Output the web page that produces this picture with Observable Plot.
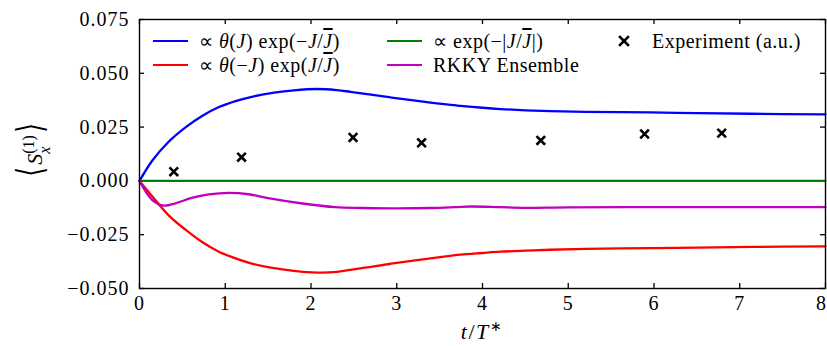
<!DOCTYPE html>
<html>
<head>
<meta charset="utf-8">
<script src="https://cdn.jsdelivr.net/npm/d3@7"></script>
<script src="https://cdn.jsdelivr.net/npm/@observablehq/plot@0.6"></script>
<style>
  html, body { margin: 0; padding: 0; background: #fff; }
  #wrap { position: relative; width: 827px; height: 346px; color: #000; }
  #wrap, #wrap div, #wrap span, #wrap i, #wrap sup, #wrap svg, #wrap text { font-family: "Liberation Serif" !important; }
  #wrap .br { font-family: "DejaVu Sans" !important; }
  #wrap > svg { position: absolute; left: 0; top: 0; }
  #wrap > svg text { letter-spacing: 1px; }
  .leg { position: absolute; font-size: 20px; letter-spacing: 0.5px; white-space: nowrap; line-height: 1; }
  .sw { position: absolute; height: 0; border-top: 2.5px solid; width: 35px; }
  i { font-style: italic; }
  .ol { text-decoration: overline; }
  #ylab { position: absolute; left: 31px; top: 150px; transform: translate(-50%, -50%) rotate(-90deg); font-size: 22px; white-space: nowrap; }
  #xlab { position: absolute; left: 482px; top: 318px; transform: translateX(-50%); font-size: 22px; letter-spacing: 1.5px; white-space: nowrap; }
</style>
</head>
<body>
<div id="wrap"></div>
<script>
// ---- data ----
const tTheory = [0, 0.15, 0.34, 0.54, 0.73, 0.92, 1.12, 1.31, 1.57, 1.8, 2.07, 2.3, 2.46, 2.7, 2.93, 3.15, 3.35, 3.55, 3.74, 4.0, 4.21, 4.5, 4.79, 5.2, 5.96, 6.5, 7.13, 8];
const blueVals = [0, 0.0095, 0.0182, 0.0250, 0.0302, 0.0342, 0.0371, 0.0391, 0.0410, 0.0421, 0.0427, 0.0422, 0.0414, 0.0401, 0.0388, 0.0376, 0.0366, 0.0357, 0.0349, 0.0340, 0.0334, 0.0328, 0.0324, 0.0321, 0.0318, 0.0315, 0.0312, 0.0309];
const redVals = [0, -0.0072, -0.0160, -0.0228, -0.0284, -0.0328, -0.0360, -0.0384, -0.0405, -0.0418, -0.0426, -0.0423, -0.0413, -0.0399, -0.0385, -0.0373, -0.0362, -0.0352, -0.0343, -0.0335, -0.0329, -0.0324, -0.0320, -0.0316, -0.0312, -0.0310, -0.0307, -0.0304];
const tGreen = [0, 8];
const greenVals = [0, 0];
const tRkky = [0, 0.15, 0.285, 0.42, 0.61, 0.81, 1.04, 1.27, 1.5, 1.9, 2.28, 2.6, 3.02, 3.4, 3.68, 3.86, 4.2, 4.48, 5, 6, 7, 8];
const rkkyVals = [0, -0.0089, -0.0115, -0.0104, -0.0079, -0.0063, -0.0056, -0.0062, -0.0080, -0.0105, -0.0122, -0.0126, -0.0128, -0.0126, -0.0122, -0.0119, -0.0122, -0.0125, -0.0123, -0.0122, -0.0122, -0.0122];
const tExp = [0.4, 1.19, 2.49, 3.29, 4.68, 5.89, 6.79];
const expVals = [0.0043, 0.011, 0.0202, 0.0177, 0.0188, 0.0218, 0.0222];
const xTicks = [0, 1, 2, 3, 4, 5, 6, 7, 8];
const yTicks = [-0.05, -0.025, 0, 0.025, 0.05, 0.075];

const series = (ts, vs) => ts.map((t, i) => ({t, v: vs[i]}));
const blue = series(tTheory, blueVals);
const red = series(tTheory, redVals);
const green = series(tGreen, greenVals);
const rkky = series(tRkky, rkkyVals);
const expt = series(tExp, expVals);

const W = 827, H = 346, mL = 139, mR = 2, mT = 19, mB = 58;
const plotW = W - mL - mR, plotH = H - mT - mB, tk = 5;
const fmtY = d => d3.format(".3f")(d);

const chart = Plot.plot({
  width: W, height: H,
  marginLeft: mL, marginRight: mR, marginTop: mT, marginBottom: mB,
  style: {fontFamily: "Liberation Serif", fontSize: "20px", background: "white", color: "black"},
  x: {domain: [0, 8]},
  y: {domain: [-0.05, 0.075]},
  marks: [
    Plot.axisX(xTicks.slice(0, -1), {tickFormat: d => String(d), tickSize: 0, tickPadding: 7, label: null}),
    Plot.axisX(xTicks.slice(-1), {tickFormat: d => String(d), tickSize: 0, tickPadding: 7, label: null, dx: -4}),
    Plot.axisY({ticks: yTicks, tickFormat: fmtY, tickSize: 0, tickPadding: 10, label: null}),
    // inward ticks on all four sides
    Plot.tickX(xTicks, {x: d => d, insetTop: plotH - tk, stroke: "black", strokeWidth: 1.3}),
    Plot.tickX(xTicks, {x: d => d, insetBottom: plotH - tk, stroke: "black", strokeWidth: 1.3}),
    Plot.tickY(yTicks, {y: d => d, insetRight: plotW - tk, stroke: "black", strokeWidth: 1.3}),
    Plot.tickY(yTicks, {y: d => d, insetLeft: plotW - tk, stroke: "black", strokeWidth: 1.3}),
    Plot.line(blue, {x: "t", y: "v", stroke: "#0000ff", strokeWidth: 2.3, curve: "catmull-rom"}),
    Plot.line(red, {x: "t", y: "v", stroke: "#ff0000", strokeWidth: 2.3, curve: "catmull-rom"}),
    Plot.line(green, {x: "t", y: "v", stroke: "#008000", strokeWidth: 2.3}),
    Plot.line(rkky, {x: "t", y: "v", stroke: "#bf00bf", strokeWidth: 2.3, curve: "catmull-rom"}),
    Plot.dot(expt, {x: "t", y: "v", symbol: "times", r: 4, stroke: "black", strokeWidth: 2.6}),
    Plot.frame({stroke: "black", strokeWidth: 1.4})
  ]
});

const wrap = document.getElementById("wrap");
wrap.appendChild(chart);

const J = '<i>J</i>';
const Jbar = '<i class="ol">J</i>';
const legendItems = [
  {color: "#0000ff", sx: 153, tx: 199, y: 41, html: `∝ <i>θ</i>(${J}) exp(−${J}/${Jbar})`},
  {color: "#ff0000", sx: 153, tx: 199, y: 65, html: `∝ <i>θ</i>(−${J}) exp(${J}/${Jbar})`},
  {color: "#008000", sx: 387, tx: 433, y: 41, html: `∝ exp(−|${J}/${Jbar}|)`},
  {color: "#bf00bf", sx: 387, tx: 433, y: 65, html: `RKKY Ensemble`}
];
for (const it of legendItems) {
  const s = document.createElement("div");
  s.className = "sw";
  s.style.left = it.sx + "px"; s.style.top = (it.y - 1) + "px"; s.style.borderColor = it.color;
  wrap.appendChild(s);
  const t = document.createElement("div");
  t.className = "leg";
  t.style.left = it.tx + "px"; t.style.top = (it.y - 10) + "px";
  t.innerHTML = it.html;
  wrap.appendChild(t);
}
// experiment legend entry
const mk = document.createElementNS("http://www.w3.org/2000/svg", "svg");
mk.setAttribute("width", 12); mk.setAttribute("height", 12);
mk.style.position = "absolute"; mk.style.left = "618px"; mk.style.top = "35px";
mk.innerHTML = '<path d="M2,2L10,10M10,2L2,10" stroke="black" stroke-width="2.6" stroke-linecap="square"/>';
wrap.appendChild(mk);
const et = document.createElement("div");
et.className = "leg";
et.style.left = "652px"; et.style.top = "31px";
et.textContent = "Experiment (a.u.)";
wrap.appendChild(et);

const yl = document.createElement("div");
yl.id = "ylab";
yl.innerHTML = '<span class="br" style="font-size:36px;display:inline-block;transform:scaleX(0.7)">⟨</span><i>S</i><span style="display:inline-flex;flex-direction:column;vertical-align:middle;line-height:1;font-size:16px"><span>(1)</span><i>x</i></span><span class="br" style="font-size:36px;display:inline-block;transform:scaleX(0.7)">⟩</span>';
wrap.appendChild(yl);

const xl = document.createElement("div");
xl.id = "xlab";
xl.innerHTML = '<i>t</i>/<i>T</i><sup style="font-size:14px">∗</sup>';
wrap.appendChild(xl);
</script>
</body>
</html>
